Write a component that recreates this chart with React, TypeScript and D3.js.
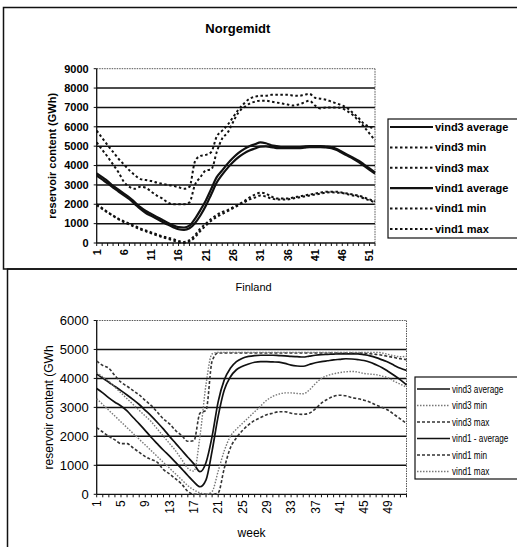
import React from "react";
import * as d3 from "d3";

const WEEKS = d3.range(1, 53);

const NOR_Y_TICKS = [0, 1000, 2000, 3000, 4000, 5000, 6000, 7000, 8000, 9000];
const NOR_X_LABELS = [1, 6, 11, 16, 21, 26, 31, 36, 41, 46, 51];
const FIN_Y_TICKS = [0, 1000, 2000, 3000, 4000, 5000, 6000];
const FIN_X_LABELS = [1, 5, 9, 13, 17, 21, 25, 29, 33, 37, 41, 45, 49];

const NOR_LEGEND = ["vind3 average", "vind3 min", "vind3 max", "vind1 average", "vind1 min", "vind1 max"];
const FIN_LEGEND = ["vind3 average", "vind3 min", "vind3 max", "vind1 - average", "vind1 min", "vind1 max"];

// Norgemidt
const norVind3Avg = [3600, 3400, 3200, 2950, 2750, 2550, 2350, 2100, 1850, 1650, 1500, 1350, 1200, 1050, 920, 820, 800, 900, 1250, 1700, 2200, 2800, 3400, 3750, 4100, 4400, 4650, 4850, 5000, 5100, 5200, 5150, 5050, 5000, 4950, 4950, 4950, 4950, 4980, 5000, 5000, 5000, 4980, 4950, 4850, 4700, 4550, 4400, 4250, 4050, 3850, 3650];
const norVind1Avg = [3480, 3280, 3080, 2860, 2660, 2460, 2260, 2010, 1760, 1550, 1400, 1250, 1100, 950, 820, 710, 680, 760, 1020, 1420, 1920, 2520, 3120, 3530, 3880, 4180, 4430, 4630, 4780, 4880, 4980, 4990, 4950, 4900, 4900, 4900, 4900, 4900, 4920, 4950, 4950, 4950, 4930, 4900, 4800, 4650, 4500, 4350, 4180, 3980, 3780, 3580];
const norVind3Max = [5800, 5420, 5050, 4700, 4350, 4050, 3750, 3500, 3300, 3250, 3200, 3120, 3050, 3000, 2950, 2880, 2800, 2900, 4200, 4500, 4550, 4700, 5500, 5800, 6100, 6500, 6900, 7200, 7450, 7550, 7600, 7600, 7650, 7650, 7650, 7650, 7620, 7600, 7650, 7700, 7500, 7450, 7400, 7300, 7200, 7100, 6950, 6700, 6450, 6150, 6000, 5900];
const norVind1Max = [5200, 4820, 4450, 4050, 3650, 3150, 2900, 2800, 2900, 2850, 2650, 2450, 2300, 2100, 2000, 2000, 2000, 2100, 3000, 3400, 3750, 3800, 4700, 5400, 5700, 6250, 6750, 7000, 7200, 7300, 7350, 7350, 7300, 7250, 7200, 7150, 7100, 7150, 7250, 7350, 7100, 6950, 7000, 7000, 7000, 6950, 6800, 6600, 6300, 6000, 5650, 5300];
const norVind3Min = [2000, 1800, 1600, 1420, 1250, 1120, 1000, 880, 750, 650, 550, 450, 350, 280, 200, 100, 50, 150, 400, 750, 1000, 1250, 1450, 1600, 1700, 1850, 2000, 2150, 2350, 2500, 2600, 2550, 2400, 2300, 2300, 2300, 2350, 2400, 2450, 2500, 2550, 2600, 2650, 2650, 2650, 2600, 2550, 2500, 2450, 2350, 2250, 2150];
const norVind1Min = [1950, 1760, 1570, 1400, 1220, 1080, 950, 830, 700, 600, 500, 400, 300, 220, 130, 40, 0, 80, 300, 620, 900, 1150, 1350, 1500, 1650, 1800, 1950, 2100, 2250, 2350, 2450, 2400, 2300, 2250, 2250, 2250, 2300, 2350, 2400, 2450, 2500, 2550, 2600, 2620, 2600, 2580, 2520, 2450, 2400, 2300, 2200, 2100];

// Finland
const finVind3Avg = [4150, 4010, 3870, 3720, 3580, 3430, 3270, 3100, 2900, 2700, 2480, 2250, 2000, 1760, 1520, 1280, 1050, 780, 1100, 2000, 3200, 3950, 4350, 4580, 4700, 4760, 4790, 4800, 4800, 4800, 4790, 4780, 4760, 4750, 4740, 4770, 4800, 4820, 4830, 4840, 4850, 4850, 4850, 4850, 4820, 4780, 4720, 4640, 4560, 4450, 4350, 4280];
const finVind1Avg = [3650, 3500, 3330, 3180, 3050, 2880, 2650, 2430, 2200, 1960, 1740, 1520, 1320, 1100, 880, 650, 430, 260, 500, 1500, 2700, 3600, 4050, 4300, 4420, 4500, 4560, 4580, 4580, 4570, 4560, 4520, 4460, 4430, 4420, 4480, 4540, 4580, 4610, 4640, 4660, 4680, 4670, 4650, 4620, 4560, 4470, 4370, 4240, 4100, 3950, 3780];
const finVind3Max = [4600, 4450, 4350, 4100, 3870, 3730, 3580, 3430, 3240, 3060, 2830, 2600, 2430, 2200, 2030, 1830, 1850, 2800, 2900, 4600, 4880, 4880, 4880, 4880, 4880, 4880, 4880, 4880, 4880, 4880, 4880, 4880, 4880, 4880, 4880, 4880, 4880, 4880, 4880, 4880, 4880, 4880, 4880, 4880, 4870, 4850, 4830, 4800, 4760, 4720, 4680, 4650];
const finVind1Max = [4200, 4050, 3900, 3700, 3500, 3300, 3100, 2900, 2700, 2500, 2250, 2000, 1750, 1500, 1200, 900, 800, 2000, 3800, 4850, 4900, 4900, 4900, 4900, 4900, 4900, 4900, 4900, 4900, 4900, 4900, 4900, 4900, 4900, 4900, 4900, 4900, 4900, 4900, 4900, 4900, 4900, 4900, 4900, 4900, 4900, 4900, 4880, 4830, 4780, 4750, 4760];
const finVind3Min = [3300, 3100, 2900, 2700, 2500, 2300, 2100, 1900, 1700, 1500, 1300, 1100, 900, 700, 500, 300, 150, 50, 0, 100, 800, 1500, 2000, 2250, 2450, 2650, 2850, 3050, 3250, 3380, 3460, 3500, 3500, 3480, 3470, 3600, 3820, 4000, 4100, 4160, 4200, 4230, 4240, 4220, 4170, 4150, 4130, 4080, 4020, 3900, 3800, 3700];
const finVind1Min = [2300, 2150, 2000, 1880, 1750, 1750, 1600, 1450, 1300, 1200, 1100, 850, 700, 530, 350, 100, 0, 0, 0, 0, 50, 900, 1600, 1950, 2200, 2400, 2550, 2650, 2750, 2800, 2850, 2850, 2800, 2770, 2760, 2800, 2950, 3150, 3280, 3380, 3420, 3400, 3340, 3300, 3250, 3180, 3080, 3000, 2900, 2750, 2600, 2450];

const FONT = "'Liberation Sans', Arial, Helvetica, sans-serif";

type Style = { stroke: string; width: number; dash?: string };

type PanelProps = {
  title: string;
  titleBold: boolean;
  titleSize: number;
  titleY: number;
  left: number;
  right: number;
  top: number;
  bottom: number;
  yTicks: number[];
  xLabels: number[];
  series: number[][];
  styles: Style[];
  legend: string[];
  legendBox: { x: number; y: number; w: number; h: number };
  legendY0: number;
  legendStep: number;
  legendLine: [number, number];
  legendFont: number;
  legendScaleX: number;
  bold: boolean;
  yFont: number;
  xFont: number;
  yTitle: string;
  yTitleX: number;
  xTitle?: string;
  xTitleY?: number;
  gridWidth: number;
};

function Panel(p: PanelProps) {
  const x = d3.scaleLinear().domain([1, 52]).range([p.left, p.right]);
  const yMax = p.yTicks[p.yTicks.length - 1];
  const y = d3.scaleLinear().domain([0, yMax]).range([p.bottom, p.top]);
  const line = d3
    .line<number>()
    .x((_, i) => x(WEEKS[i]))
    .y((d) => y(d))
    .curve(d3.curveMonotoneX);
  const fw = p.bold ? "bold" : "normal";
  const midY = (p.top + p.bottom) / 2;
  const catStep = (p.right - p.left) / 51;
  return (
    <g fontFamily={FONT}>
      <text x={(p.left + p.right) / 2 + 2} y={p.titleY} textAnchor="middle" fontSize={p.titleSize} fontWeight={p.titleBold ? "bold" : "normal"}>
        {p.title}
      </text>
      {/* grid */}
      {p.yTicks.map((t) =>
        t === yMax ? (
          <line key={t} x1={p.left} x2={p.right} y1={y(t)} y2={y(t)} stroke="#555" strokeWidth={1} strokeDasharray="1.5,1" />
        ) : t === 0 ? null : (
          <line key={t} x1={p.left} x2={p.right} y1={y(t)} y2={y(t)} stroke="#111" strokeWidth={p.gridWidth} />
        )
      )}
      <line x1={p.right} x2={p.right} y1={p.top} y2={p.bottom} stroke="#555" strokeWidth={1} strokeDasharray="1.5,1" />
      {/* axes */}
      <line x1={p.left} x2={p.left} y1={p.top} y2={p.bottom} stroke="#111" strokeWidth={1.3} />
      <line x1={p.left} x2={p.right} y1={p.bottom} y2={p.bottom} stroke="#111" strokeWidth={1.3} />
      {p.yTicks.map((t) => (
        <g key={"yt" + t}>
          <line x1={p.left - 3} x2={p.left} y1={y(t)} y2={y(t)} stroke="#111" strokeWidth={1} />
          <text x={p.left - 8} y={y(t)} dy="0.35em" textAnchor="end" fontSize={p.yFont} fontWeight={fw}>
            {t}
          </text>
        </g>
      ))}
      {WEEKS.map((w) => (
        <line key={"xt" + w} x1={x(w)} x2={x(w)} y1={p.bottom} y2={p.bottom + 3} stroke="#111" strokeWidth={1} />
      ))}
      <line x1={p.right + catStep} x2={p.right + catStep} y1={p.bottom} y2={p.bottom} stroke="none" />
      {p.xLabels.map((w) => (
        <text
          key={"xl" + w}
          transform={`translate(${x(w)},${p.bottom + 6}) rotate(-90)`}
          textAnchor="end"
          dy="0.35em"
          fontSize={p.xFont}
          fontWeight={fw}
        >
          {w}
        </text>
      ))}
      <text transform={`translate(${p.yTitleX},${midY}) rotate(-90)`} textAnchor="middle" fontSize={p.xFont} fontWeight={fw}>
        {p.yTitle}
      </text>
      {p.xTitle ? (
        <text x={(p.left + p.right) / 2} y={p.xTitleY} textAnchor="middle" fontSize={p.xFont} fontWeight={fw}>
          {p.xTitle}
        </text>
      ) : null}
      {/* series */}
      {p.series.map((s, i) => (
        <path
          key={"s" + i}
          d={line(s) || ""}
          fill="none"
          stroke={p.styles[i].stroke}
          strokeWidth={p.styles[i].width}
          strokeDasharray={p.styles[i].dash}
          strokeLinejoin="round"
        />
      ))}
      {/* legend */}
      <rect x={p.legendBox.x} y={p.legendBox.y} width={p.legendBox.w} height={p.legendBox.h} fill="white" stroke="#111" strokeWidth={1.2} />
      {p.legend.map((name, i) => {
        const ly = p.legendY0 + i * p.legendStep;
        const st = p.styles[i];
        const tx = p.legendLine[1] + 2;
        return (
          <g key={"lg" + i}>
            <line x1={p.legendLine[0]} x2={p.legendLine[1]} y1={ly} y2={ly} stroke={st.stroke} strokeWidth={st.width} strokeDasharray={st.dash} />
            <text
              transform={`translate(${tx},${ly}) scale(${p.legendScaleX},1)`}
              dy="0.35em"
              fontSize={p.legendFont}
              fontWeight={fw}
            >
              {name}
            </text>
          </g>
        );
      })}
    </g>
  );
}

export default function App() {
  const norStyles: Style[] = [
    { stroke: "#111", width: 2.2 },
    { stroke: "#111", width: 2, dash: "2.5,2.5" },
    { stroke: "#111", width: 2, dash: "2.5,2.5" },
    { stroke: "#111", width: 2.2 },
    { stroke: "#111", width: 2, dash: "2.5,2.5" },
    { stroke: "#111", width: 2, dash: "2.5,2.5" },
  ];
  const finStyles: Style[] = [
    { stroke: "#111", width: 1.7 },
    { stroke: "#777", width: 1.4, dash: "1.5,1.5" },
    { stroke: "#333", width: 1.6, dash: "3,2" },
    { stroke: "#111", width: 1.7 },
    { stroke: "#333", width: 1.6, dash: "3,2" },
    { stroke: "#777", width: 1.4, dash: "1.5,1.5" },
  ];
  return (
    <svg width={517} height={547} style={{ position: "absolute", left: 0, top: 0, background: "white" }}>
      <rect x={0} y={0} width={517} height={547} fill="white" />
      <rect x={3.5} y={7.5} width={530} height={261.5} fill="none" stroke="#111" strokeWidth={1.5} />
      <rect x={7.5} y={269} width={530} height={300} fill="none" stroke="#111" strokeWidth={1.5} />
      <Panel
        title="Norgemidt"
        titleBold={true}
        titleSize={13}
        titleY={33}
        left={96.7}
        right={375}
        top={68.7}
        bottom={243}
        yTicks={NOR_Y_TICKS}
        xLabels={NOR_X_LABELS}
        series={[norVind3Avg, norVind3Min, norVind3Max, norVind1Avg, norVind1Min, norVind1Max]}
        styles={norStyles}
        legend={NOR_LEGEND}
        legendBox={{ x: 388, y: 119, w: 140, h: 119 }}
        legendY0={127}
        legendStep={20.4}
        legendLine={[390, 433]}
        legendFont={11}
        legendScaleX={1}
        bold={true}
        yFont={11}
        xFont={11}
        yTitle="reservoir content (GWh)"
        yTitleX={56}
        gridWidth={1.5}
      />
      <Panel
        title="Finland"
        titleBold={false}
        titleSize={11}
        titleY={291}
        left={96.7}
        right={406.5}
        top={320.5}
        bottom={494.3}
        yTicks={FIN_Y_TICKS}
        xLabels={FIN_X_LABELS}
        series={[finVind3Avg, finVind3Min, finVind3Max, finVind1Avg, finVind1Min, finVind1Max]}
        styles={finStyles}
        legend={FIN_LEGEND}
        legendBox={{ x: 415, y: 377, w: 120, h: 102 }}
        legendY0={389}
        legendStep={16.5}
        legendLine={[417, 450]}
        legendFont={10}
        legendScaleX={0.82}
        bold={false}
        yFont={13}
        xFont={12}
        yTitle="reservoir content (GWh"
        yTitleX={53}
        xTitle="week"
        xTitleY={537}
        gridWidth={1.5}
      />
    </svg>
  );
}
